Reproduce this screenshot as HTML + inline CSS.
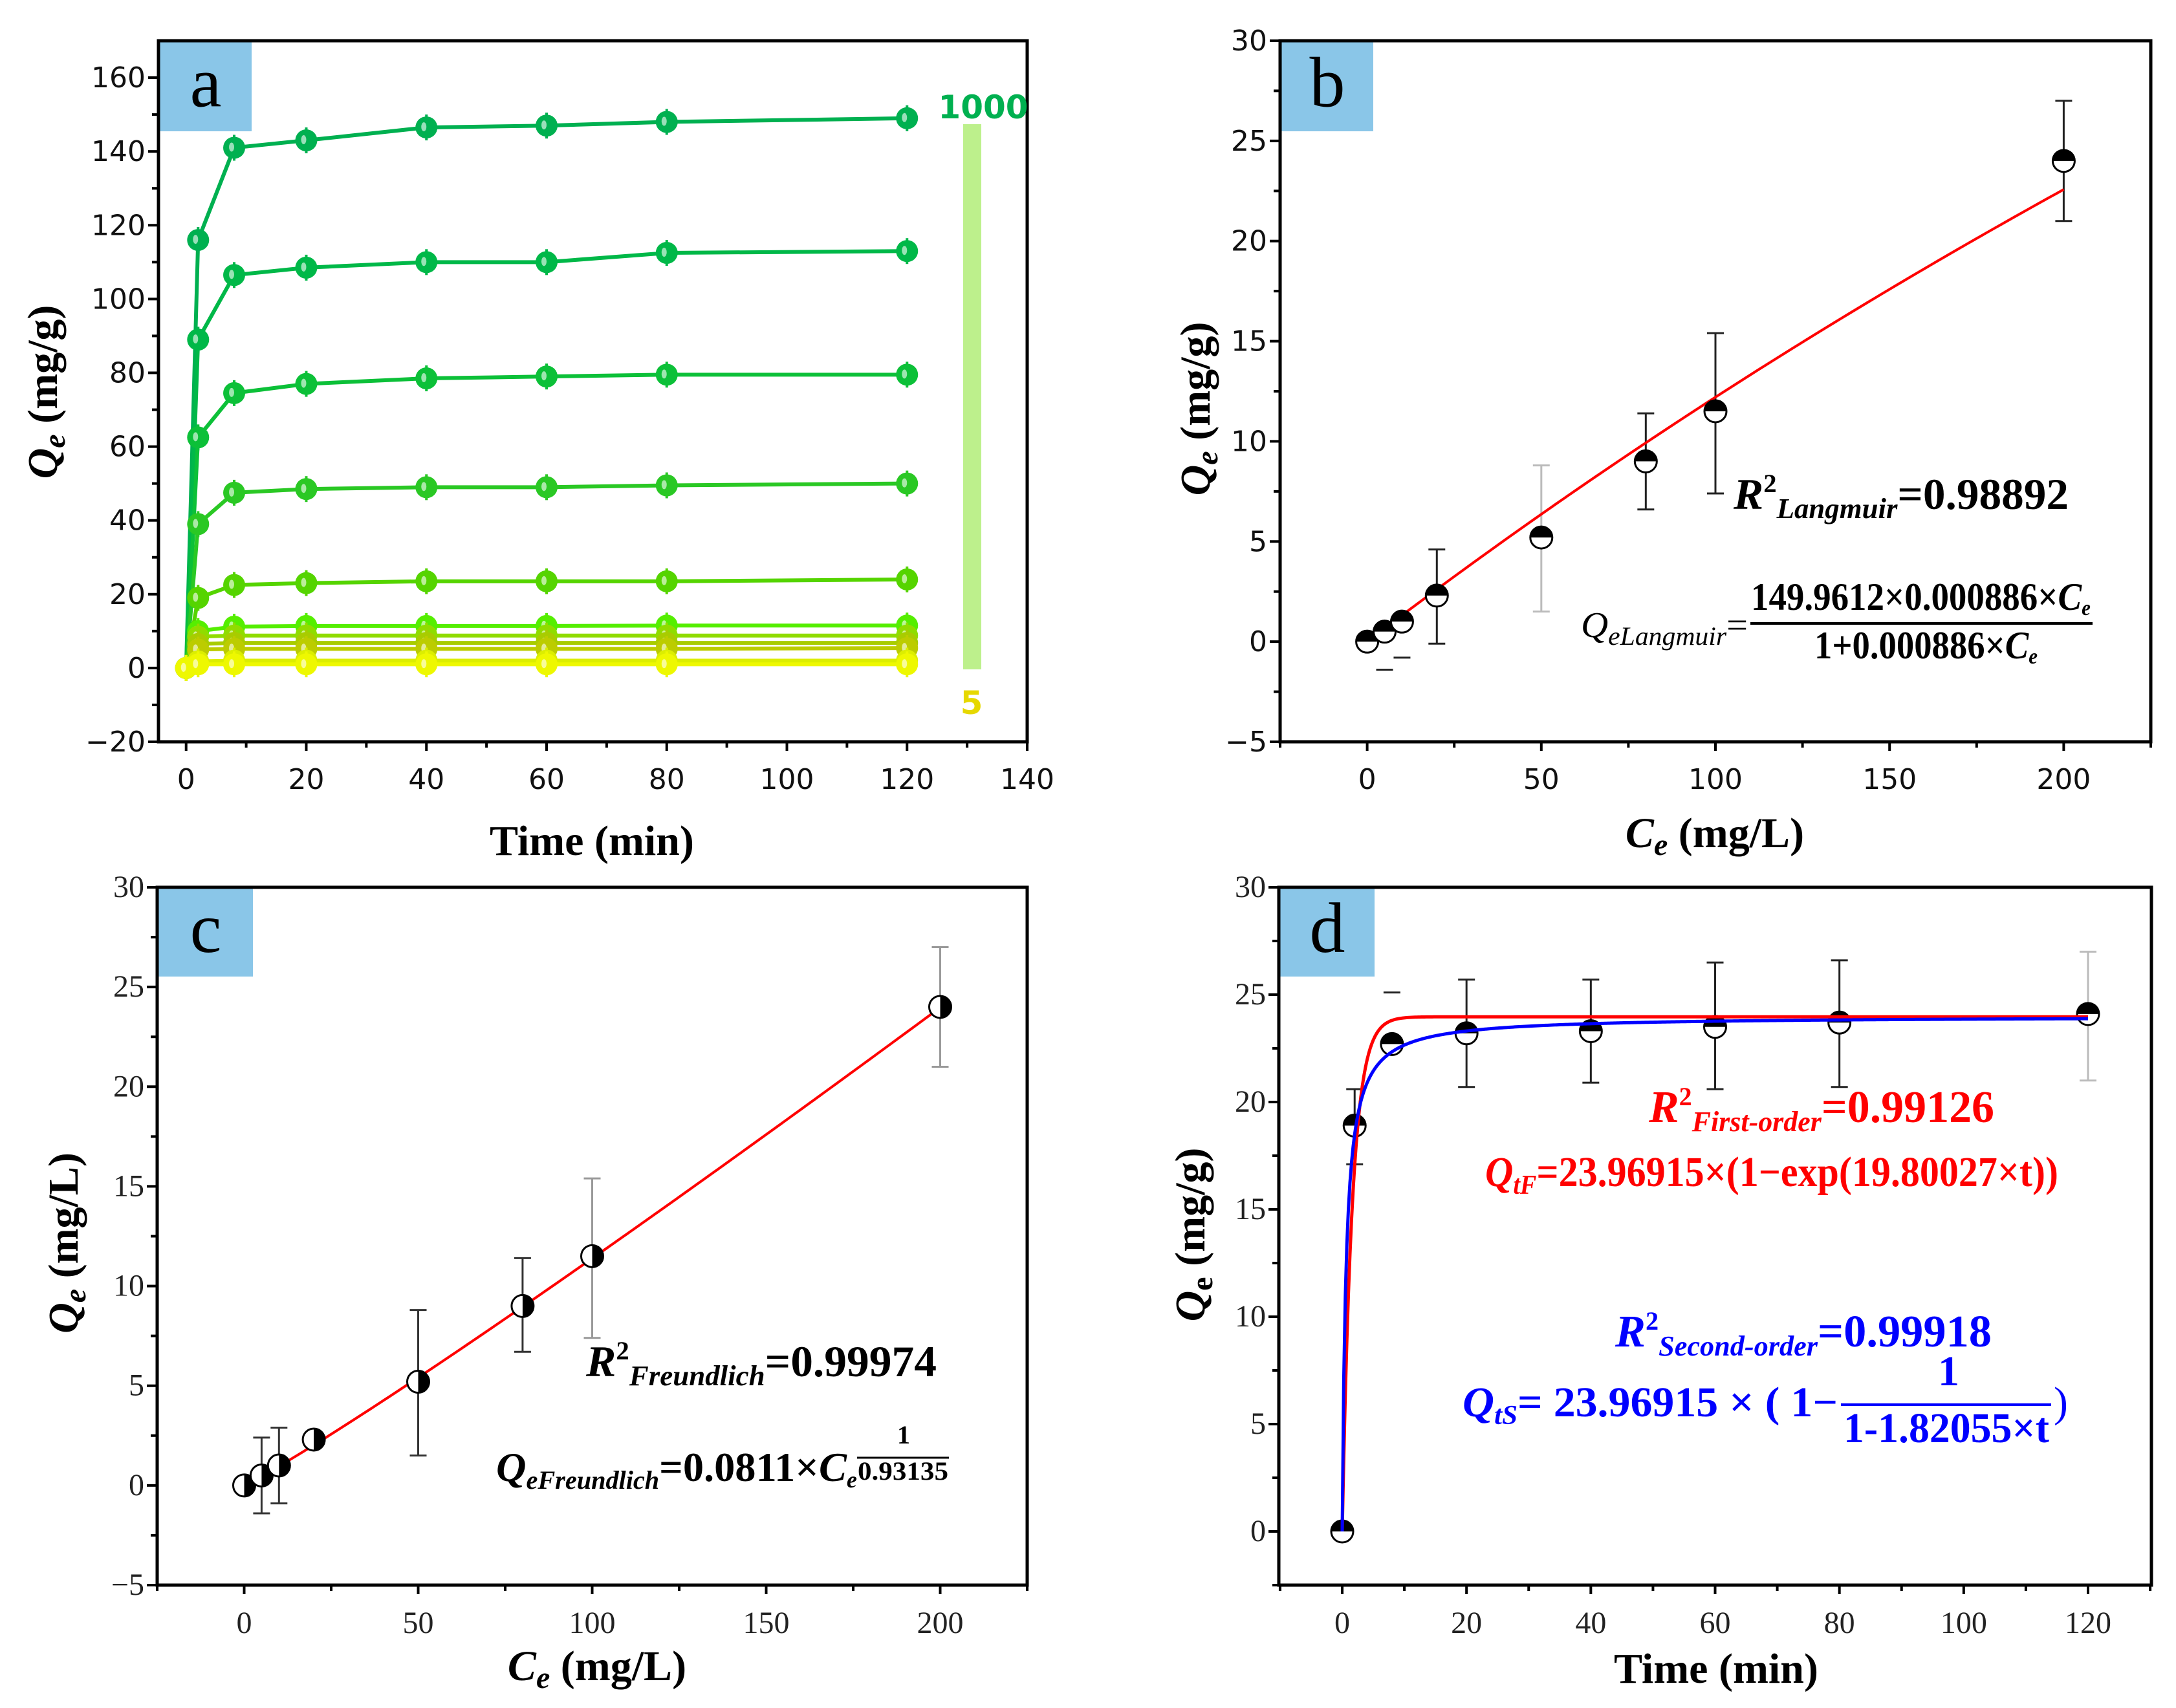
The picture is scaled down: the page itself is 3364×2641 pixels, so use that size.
<!DOCTYPE html>
<html><head><meta charset="utf-8"><style>
html,body{margin:0;padding:0;background:#fff;}
svg{display:block;}
</style></head><body>
<svg id="fig" width="3364" height="2641" viewBox="0 0 3364 2641" xmlns="http://www.w3.org/2000/svg">
<rect width="3364" height="2641" fill="#fff"/>
<g id="root"></g>
</svg>
<script>
// ---- Panel a data ----
const aTimes=[0,2,8,20,40,60,80,120];
const aSeries=[
 [0,116,141,143,146.5,147,148,149],
 [0,89,106.5,108.5,110,110,112.5,113],
 [0,62.5,74.5,77,78.5,79,79.5,79.5],
 [0,39,47.5,48.5,49,49,49.5,50],
 [0,19,22.5,23,23.5,23.5,23.5,24],
 [0,10,11.2,11.4,11.4,11.4,11.5,11.5],
 [0,8.5,8.8,8.8,8.8,8.8,8.8,8.8],
 [0,6.5,6.8,6.8,6.8,6.8,6.8,6.8],
 [0,5,5.2,5.2,5.2,5.2,5.2,5.4],
 [0,1.8,2,2,2,2,2,2],
 [0,1,1,1,1,1,1,1]
];
const aColors=["#00b050","#00b848","#0cc038","#2ac824","#55d400","#55ee00","#90dc00","#a8cc00","#bccc00","#dcee00","#eef800"];
const aXTicks=[0,20,40,60,80,100,120,140];
const aYTicks=[-20,0,20,40,60,80,100,120,140,160];
// ---- Panel b/c data ----
const ceVals=[0,5,10,20,50,80,100,200];
const qeVals=[0,0.5,1.0,2.3,5.2,9.0,11.5,24];
const bErrLo=[null,-1.4,-0.8,-0.1,1.5,6.6,7.4,21];
const bErrHi=[null,null,null,4.6,8.8,11.4,15.4,27];
const cErrLo=[null,-1.4,-0.9,null,1.5,6.7,7.4,21];
const cErrHi=[null,2.4,2.9,null,8.8,11.4,15.4,27];
const langQmax=[149.9612], langK=[0.000886];
const freK=[0.0811], freN=[0.93135];
const bcXTicks=[0,50,100,150,200];
const bcYTicks=[-5,0,5,10,15,20,25,30];
// ---- Panel d data ----
const dTimes=[0,2,8,20,40,60,80,120];
const dQ=[0,18.9,22.7,23.2,23.3,23.5,23.7,24.1];
const dErrLo=[null,17.1,null,20.7,20.9,20.6,20.7,21];
const dErrHi=[null,20.6,25.1,25.7,25.7,26.5,26.6,27];
const dFirstQe=[23.96915], dFirstK=[0.62];
const dSecondQe=[24.0], dSecondKq=[1.68];
const dXTicks=[0,20,40,60,80,100,120];
const dYTicks=[0,5,10,15,20,25,30];

const SERIF='Liberation Serif, serif';
const SANS='DejaVu Sans, Liberation Sans, sans-serif';
const NS="http://www.w3.org/2000/svg";
const root=document.getElementById('root');
function el(tag,attrs,parent){const e=document.createElementNS(NS,tag);for(const k in attrs)e.setAttribute(k,attrs[k]);(parent||root).appendChild(e);return e;}
function lin(d0,d1,p0,p1){return v=>p0+(v-d0)/(d1-d0)*(p1-p0);}
function fontAttrs(cls){
  if(cls==='tk') return {'font-family':SANS,'font-size':44,fill:'#111'};
  return {'font-family':SERIF,'font-size':48,fill:'#222'};
}
function axes(g,L,R,T,B,sx,sy,xt,xminor,yt,yminor,xlbY,cls,xlo,xhi,ylo,yhi){
  const fr=el('rect',{x:L,y:T,width:R-L,height:B-T,fill:'none',stroke:'#000','stroke-width':5},g);
  
  
  const fa=fontAttrs(cls);
  for(let v=xlo;v<=xhi+1e-9;v+=xminor){const x=sx(v);const major=xt.some(t=>Math.abs(t-v)<1e-9);
    const t=el('line',{x1:x,x2:x,y1:B,y2:B+(major?14:9),stroke:'#000','stroke-width':4},g);
    }
  xt.forEach(v=>{const tx=el('text',Object.assign({x:sx(v),y:xlbY,'text-anchor':'middle'},fa),g);tx.textContent=v;
    });
  for(let v=ylo;v<=yhi+1e-9;v+=yminor){const y=sy(v);const major=yt.some(t=>Math.abs(t-v)<1e-9);
    const t=el('line',{x1:L,x2:L-(major?16:10),y1:y,y2:y,stroke:'#000','stroke-width':4},g);
    }
  yt.forEach(v=>{const tx=el('text',Object.assign({x:L-20,y:sy(v)+15,'text-anchor':'end'},fa),g);tx.textContent=(v<0?'\u2212'+(-v):v);
    });
}
function badge(g,x,y,w,h,letter){
  const r=el('rect',{x:x,y:y,width:w,height:h,fill:'#8ac6e8'},g);
  
  const t=el('text',{x:x+w/2,y:y+h*0.72,'text-anchor':'middle','font-family':SERIF,'font-size':110,fill:'#000'},g);
  t.textContent=letter;
}
function halfMarker(g,cx,cy,r,mode){
  const grp=el('g',{},g);
  
  el('circle',{cx:cx,cy:cy,r:r,fill:'#fff',stroke:'#000','stroke-width':3},grp);
  let d;
  if(mode==='top') d=`M${cx-r},${cy} A${r},${r} 0 0 1 ${cx+r},${cy} Z`;
  else d=`M${cx},${cy-r} A${r},${r} 0 0 1 ${cx},${cy+r} Z`;
  el('path',{d:d,fill:'#000'},grp);
}
function errBar(g,x,yl,yh,col,sw){
  const grp=el('g',{},g);
  
  if(yl!==null&&yh!==null) el('line',{x1:x,x2:x,y1:yl,y2:yh,stroke:col,'stroke-width':sw},grp);
  if(yl!==null) el('line',{x1:x-13,x2:x+13,y1:yl,y2:yl,stroke:col,'stroke-width':sw},grp);
  if(yh!==null) el('line',{x1:x-13,x2:x+13,y1:yh,y2:yh,stroke:col,'stroke-width':sw},grp);
}
function txt(g,x,y,parts,opts,name){
  const t=el('text',Object.assign({x:x,y:y,'font-family':SERIF,'font-weight':'bold'},opts),g);
  parts.forEach(p=>{const s=el('tspan',p.a||{},t);s.textContent=p.t;});
  
  return t;
}
function title(g,attrs){
  return el('text',Object.assign({'text-anchor':'middle','font-family':SERIF,'font-weight':'bold','font-size':66,fill:'#000'},attrs),g);
}

// ================= Panel a =================
(function(){
 const g=el('g',{});
 const L=245,R=1588,T=63,B=1147;
 const sx=lin(-4.6,140,L,R), sy=lin(-20,170,B,T);
 badge(g,247,65,142,138,'a');
 aSeries.forEach((s,i)=>{
   const col=aColors[i];
   const sg=el('g',{},g);
   const pts=aTimes.map((t,j)=>sx(t)+','+sy(s[j])).join(' ');
   el('polyline',{points:pts,fill:'none',stroke:col,'stroke-width':6},sg);
   aTimes.forEach((t,j)=>{
     const cx=sx(t),cy=sy(s[j]);
     el('line',{x1:cx,x2:cx,y1:cy-20,y2:cy+20,stroke:col,'stroke-width':4},sg);
     const c=el('circle',{cx:cx,cy:cy,r:17,fill:col},sg);
     
     el('ellipse',{cx:cx-4,cy:cy-1,rx:4,ry:7,fill:'#fff',opacity:0.6},sg);
   });
 });
 axes(g,L,R,T,B,sx,sy,aXTicks,10,aYTicks,10,1220,'tk',0,140,-20,160);
 const bar=el('rect',{x:1489,y:192,width:28,height:843,fill:'#bdf08c'},g);
 
 const t1=el('text',{x:1520,y:183,'text-anchor':'middle','font-family':SANS,'font-weight':'bold','font-size':50,fill:'#00b050'},g);
 t1.textContent='1000';
 const t2=el('text',{x:1502,y:1104,'text-anchor':'middle','font-family':SANS,'font-weight':'bold','font-size':50,fill:'#e6d800'},g);
 t2.textContent='5';
 const yt=title(g,{transform:'translate(88,606) rotate(-90)'});
 
 let s=el('tspan',{'font-style':'italic'},yt);s.textContent='Q';
 s=el('tspan',{'font-style':'italic','font-size':48,dy:12},yt);s.textContent='e';
 s=el('tspan',{dy:-12},yt);s.textContent=' (mg/g)';
 const xt=title(g,{x:915,y:1322});xt.textContent='Time (min)';
 
})();

// ================= Panel b =================
(function(){
 const g=el('g',{});
 const L=1979,R=3325,T=63,B=1147;
 const sx=lin(-25,225,L,R), sy=lin(-5,30,B,T);
 badge(g,1981,65,142,138,'b');
 ceVals.forEach((c,i)=>errBar(g,sx(c),bErrLo[i]===null?null:sy(bErrLo[i]),bErrHi[i]===null?null:sy(bErrHi[i]),i===4?'#bbb':'#222',3));
 const pts=[];for(let c=10;c<=200;c+=2){pts.push(sx(c)+','+sy(langQmax[0]*langK[0]*c/(1+langK[0]*c)));}
 const fl=el('polyline',{points:pts.join(' '),fill:'none',stroke:'#ff0000','stroke-width':4},g);
 
 ceVals.forEach((c,i)=>halfMarker(g,sx(c),sy(qeVals[i]),17,'top'));
 axes(g,L,R,T,B,sx,sy,bcXTicks,25,bcYTicks,2.5,1220,'tk',-25,225,-5,30);
 txt(g,2680,787,[{t:'R',a:{'font-style':'italic'}},{t:'2',a:{dy:-26,'font-size':40}},{t:'Langmuir',a:{dy:40,'font-style':'italic','font-size':44}},{t:'=0.98892',a:{dy:-14}}],{'font-size':68,textLength:518,lengthAdjust:'spacingAndGlyphs'},'r2-langmuir');
 txt(g,2444,985,[{t:'Q',a:{'font-style':'italic'}},{t:'eLangmuir',a:{dy:12,'font-style':'italic','font-size':40}},{t:'=',a:{dy:-12}}],{'font-size':56,'font-weight':'normal',textLength:258,lengthAdjust:'spacingAndGlyphs'},'langmuir-equation-lhs');
 const ln=el('line',{x1:2706,x2:3235,y1:964,y2:964,stroke:'#000','stroke-width':4},g);
 
 txt(g,2707,943,[{t:'149.9612×0.000886×'},{t:'C',a:{'font-style':'italic'}},{t:'e',a:{dy:8,'font-style':'italic','font-size':34}}],{'font-size':60,textLength:525,lengthAdjust:'spacingAndGlyphs'},'langmuir-numerator');
 txt(g,2805,1018,[{t:'1+0.000886×'},{t:'C',a:{'font-style':'italic'}},{t:'e',a:{dy:8,'font-style':'italic','font-size':34}}],{'font-size':60,textLength:345,lengthAdjust:'spacingAndGlyphs'},'langmuir-denominator');
 const yt=title(g,{transform:'translate(1870,632) rotate(-90)'});
 
 let s=el('tspan',{'font-style':'italic'},yt);s.textContent='Q';
 s=el('tspan',{'font-style':'italic','font-size':48,dy:12},yt);s.textContent='e';
 s=el('tspan',{dy:-12},yt);s.textContent=' (mg/g)';
 const xt=title(g,{x:2651,y:1310});
 
 s=el('tspan',{'font-style':'italic'},xt);s.textContent='C';
 s=el('tspan',{'font-style':'italic','font-size':48,dy:12},xt);s.textContent='e';
 s=el('tspan',{dy:-12},xt);s.textContent=' (mg/L)';
})();

// ================= Panel c =================
(function(){
 const g=el('g',{});
 const L=243,R=1588,T=1372,B=2451;
 const sx=lin(-25,225,L,R), sy=lin(-5,30,B,T);
 badge(g,245,1374,146,136,'c');
 ceVals.forEach((c,i)=>errBar(g,sx(c),cErrLo[i]===null?null:sy(cErrLo[i]),cErrHi[i]===null?null:sy(cErrHi[i]),(i===6||i===7)?'#999':'#333',3));
 const pts=[];for(let c=10;c<=200;c+=2){pts.push(sx(c)+','+sy(freK[0]*Math.pow(c,1/freN[0])));}
 const fl=el('polyline',{points:pts.join(' '),fill:'none',stroke:'#ff0000','stroke-width':4},g);
 
 ceVals.forEach((c,i)=>halfMarker(g,sx(c),sy(qeVals[i]),17,'right'));
 axes(g,L,R,T,B,sx,sy,bcXTicks,25,bcYTicks,2.5,2525,'tks',-25,225,-5,30);
 txt(g,906,2128,[{t:'R',a:{'font-style':'italic'}},{t:'2',a:{dy:-26,'font-size':40}},{t:'Freundlich',a:{dy:40,'font-style':'italic','font-size':44}},{t:'=0.99974',a:{dy:-14}}],{'font-size':68,textLength:542,lengthAdjust:'spacingAndGlyphs'},'r2-freundlich');
 txt(g,767,2290,[{t:'Q',a:{'font-style':'italic'}},{t:'eFreundlich',a:{dy:12,'font-style':'italic','font-size':40}},{t:'=0.0811×',a:{dy:-12}},{t:'C',a:{'font-style':'italic'}},{t:'e',a:{dy:10,'font-style':'italic','font-size':36}}],{'font-size':64,textLength:558,lengthAdjust:'spacingAndGlyphs'},'freundlich-equation');
 txt(g,1387,2232,[{t:'1'}],{'font-size':40},'exponent-numerator');
 const ln=el('line',{x1:1325,x2:1467,y1:2254,y2:2254,stroke:'#000','stroke-width':3},g);
 
 txt(g,1326,2288,[{t:'0.93135'}],{'font-size':40,textLength:140,lengthAdjust:'spacingAndGlyphs'},'exponent-denominator');
 const yt=title(g,{transform:'translate(120,1922) rotate(-90)'});
 
 let s=el('tspan',{'font-style':'italic'},yt);s.textContent='Q';
 s=el('tspan',{'font-style':'italic','font-size':48,dy:12},yt);s.textContent='e';
 s=el('tspan',{dy:-12},yt);s.textContent=' (mg/L)';
 const xt=title(g,{x:923,y:2598});
 
 s=el('tspan',{'font-style':'italic'},xt);s.textContent='C';
 s=el('tspan',{'font-style':'italic','font-size':48,dy:12},xt);s.textContent='e';
 s=el('tspan',{dy:-12},xt);s.textContent=' (mg/L)';
})();

// ================= Panel d =================
(function(){
 const g=el('g',{});
 const L=1977,R=3326,T=1372,B=2451;
 const sx=lin(-10.2,130.2,L,R), sy=lin(-2.5,30,B,T);
 badge(g,1979,1374,146,136,'d');
 dTimes.forEach((t,i)=>errBar(g,sx(t),dErrLo[i]===null?null:sy(dErrLo[i]),dErrHi[i]===null?null:sy(dErrHi[i]),i===7?'#bbb':'#222',3));
 dTimes.forEach((t,i)=>halfMarker(g,sx(t),sy(dQ[i]),17,'top'));
 let p1=[],p2=[];
 for(let t=0;t<=120;t+=0.25){
   p1.push(sx(t)+','+sy(dFirstQe[0]*(1-Math.exp(-dFirstK[0]*t))));
   const x=dSecondKq[0]*t;p2.push(sx(t)+','+sy(dSecondQe[0]*x/(1+x)));
 }
 const f1=el('polyline',{points:p1.join(' '),fill:'none',stroke:'#ff0000','stroke-width':5},g);
 
 const f2=el('polyline',{points:p2.join(' '),fill:'none',stroke:'#0000ff','stroke-width':5},g);
 
 axes(g,L,R,T,B,sx,sy,dXTicks,10,dYTicks,2.5,2525,'tks',-10,130,-2.5,30);
 txt(g,2549,1735,[{t:'R',a:{'font-style':'italic'}},{t:'2',a:{dy:-26,'font-size':40}},{t:'First-order',a:{dy:40,'font-style':'italic','font-size':44}},{t:'=0.99126',a:{dy:-14}}],{'font-size':70,fill:'#ff0000',textLength:534,lengthAdjust:'spacingAndGlyphs'},'r2-first-order');
 txt(g,2296,1834,[{t:'Q',a:{'font-style':'italic'}},{t:'tF',a:{dy:12,'font-style':'italic','font-size':42}},{t:'=23.96915×(1−exp(19.80027×t))',a:{dy:-12}}],{'font-size':66,fill:'#ff0000',textLength:886,lengthAdjust:'spacingAndGlyphs'},'first-order-equation');
 txt(g,2497,2082,[{t:'R',a:{'font-style':'italic'}},{t:'2',a:{dy:-26,'font-size':40}},{t:'Second-order',a:{dy:40,'font-style':'italic','font-size':44}},{t:'=0.99918',a:{dy:-14}}],{'font-size':70,fill:'#0000ff',textLength:582,lengthAdjust:'spacingAndGlyphs'},'r2-second-order');
 txt(g,2261,2190,[{t:'Q',a:{'font-style':'italic'}},{t:'tS',a:{dy:12,'font-style':'italic','font-size':42}},{t:'= 23.96915 ×  ( 1−',a:{dy:-12}}],{'font-size':66,fill:'#0000ff',textLength:580,lengthAdjust:'spacingAndGlyphs'},'second-order-equation');
 txt(g,2996,2142,[{t:'1'}],{'font-size':66,fill:'#0000ff'},'second-order-numerator');
 const ln=el('line',{x1:2846,x2:3171,y1:2172,y2:2172,stroke:'#0000ff','stroke-width':4},g);
 
 txt(g,2850,2230,[{t:'1-1.82055×t'}],{'font-size':66,fill:'#0000ff',textLength:318,lengthAdjust:'spacingAndGlyphs'},'second-order-denominator');
 txt(g,3175,2190,[{t:')'}],{'font-size':66,fill:'#0000ff','font-weight':'normal'},'closing-paren');
 const yt=title(g,{transform:'translate(1862,1909) rotate(-90)'});
 
 let s=el('tspan',{'font-style':'italic'},yt);s.textContent='Q';
 s=el('tspan',{'font-size':48,dy:12},yt);s.textContent='e';
 s=el('tspan',{dy:-12},yt);s.textContent=' (mg/g)';
 const xt=title(g,{x:2653,y:2602});xt.textContent='Time (min)';
 
})();
</script>
</body></html>
